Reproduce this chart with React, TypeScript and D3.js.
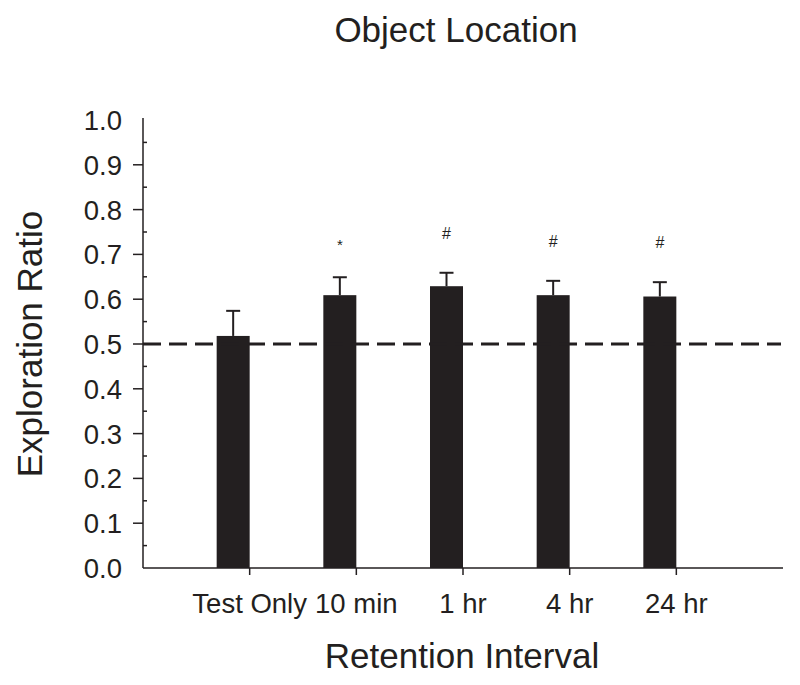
import React, { useEffect } from 'react';
import * as d3 from 'd3';

const categories = ['Test Only', '10 min', '1 hr', '4 hr', '24 hr'];
const means = [0.518, 0.609, 0.629, 0.609, 0.606];
const sems = [0.056, 0.040, 0.030, 0.032, 0.032];
const markers = ['', '*', '#', '#', '#'];
const yTicks = [0.0, 0.1, 0.2, 0.3, 0.4, 0.5, 0.6, 0.7, 0.8, 0.9, 1.0];
const chance = 0.5;

const W = 800;
const H = 685;
const FONT = '"Liberation Sans", Arial, sans-serif';
const INK = '#231f20';

export default function App() {
  useEffect(() => {
    document.body.style.margin = '0';
  }, []);

  const x0 = 143, x1 = 783;
  const x = d3.scalePoint<string>().domain(categories).range([x0, x1]).padding(1);
  const y = d3.scaleLinear().domain([0, 1]).range([568, 120]);
  const barW = 33;
  const minor = d3.range(0.05, 1, 0.1);

  return (
    <svg width={W} height={H} style={{ display: 'block', background: '#fff' }} fontFamily={FONT}>
      <text x={456} y={42} textAnchor="middle" fontSize={35} fill={INK}>Object Location</text>

      {/* y axis */}
      <line x1={x0} x2={x0} y1={y(1) - 2} y2={y(0)} stroke={INK} strokeWidth={1.5} />
      {yTicks.map((t) => (
        <g key={'yt' + t}>
          {t > 0 && t < 1 && (
            <line x1={x0 - 10} x2={x0} y1={y(t)} y2={y(t)} stroke={INK} strokeWidth={1.5} />
          )}
          <text x={122} y={y(t)} dy="0.36em" textAnchor="end" fontSize={27.5} fill={INK}>
            {t.toFixed(1)}
          </text>
        </g>
      ))}
      {minor.map((t) => (
        <line key={'mt' + t} x1={x0} x2={x0 + 4} y1={y(t)} y2={y(t)} stroke={INK} strokeWidth={1.5} />
      ))}
      <text
        transform={`translate(42,${(y(0) + y(1)) / 2}) rotate(-90)`}
        textAnchor="middle"
        fontSize={35}
        fill={INK}
      >
        Exploration Ratio
      </text>

      {/* bars */}
      {categories.map((c, i) => {
        const px = x(c) as number;
        const cx = px - barW / 2;
        const top = y(means[i] + sems[i]);
        return (
          <g key={c}>
            <rect x={px - barW} y={y(means[i])} width={barW} height={y(0) - y(means[i])} fill={INK} />
            <line x1={cx} x2={cx} y1={y(means[i])} y2={top} stroke={INK} strokeWidth={2} />
            <line x1={cx - 7} x2={cx + 7} y1={top} y2={top} stroke={INK} strokeWidth={2} />
            {markers[i] && (
              <text
                x={cx}
                y={markers[i] === '*' ? top - 27 : top - 34}
                textAnchor="middle"
                fontSize={markers[i] === '*' ? 15 : 16}
                fill={INK}
              >
                {markers[i]}
              </text>
            )}
          </g>
        );
      })}

      {/* chance line */}
      <line
        x1={x0}
        x2={781}
        y1={y(chance)}
        y2={y(chance)}
        stroke={INK}
        strokeWidth={3}
        strokeDasharray="18 8"
      />

      {/* x axis */}
      <line x1={x0} x2={x1} y1={y(0)} y2={y(0)} stroke={INK} strokeWidth={1.5} />
      {categories.map((c) => (
        <g key={'xt' + c}>
          <line x1={x(c)} x2={x(c)} y1={y(0)} y2={y(0) + 7} stroke={INK} strokeWidth={1.5} />
          <text x={x(c)} y={613} textAnchor="middle" fontSize={27.5} fill={INK}>{c}</text>
        </g>
      ))}
      <text x={462} y={668} textAnchor="middle" fontSize={35} fill={INK}>Retention Interval</text>
    </svg>
  );
}
